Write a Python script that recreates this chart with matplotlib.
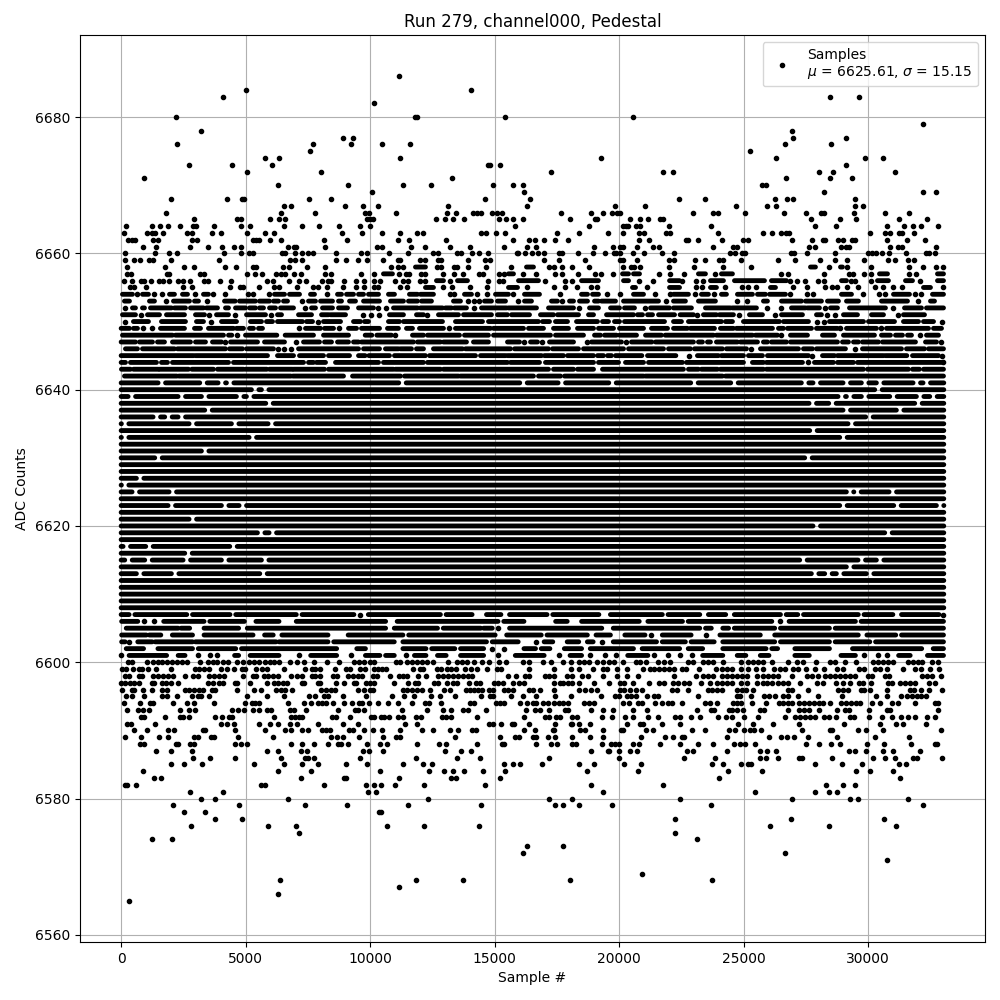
import matplotlib
matplotlib.use("Agg")
import matplotlib.pyplot as plt

TITLE = "Run 279, channel000, Pedestal"
XLABEL = "Sample #"
YLABEL = "ADC Counts"
LEGEND = "Samples\n$\\mu$ = 6625.61, $\\sigma$ = 15.15"

# Sparse rows: ADC level -> samples.
# A number is one sample; a (start, end) pair is a stretch of overlapping samples.
rows = {
 6686: [11178],
 6684: [4995, 14071],
 6683: [4110, 28489, 29654],
 6682: [10136],
 6680: [2223, 11821, 11902, 15437, 20538],
 6679: [32185],
 6678: [3227, 26962],
 6677: [8891, 9293, 27003, 29132],
 6676: [2263, 7686, 9212, 10469, 11620, 26681, 28529],
 6675: [7605, 25275],
 6674: [5758, 6360, 11219, 19253, 26320, 29895, 30618],
 6673: [2745, 4472, 6079, 14754, 14834, 15236, 29132],
 6672: [5035, 8007, 17284, 21743, 22145, 28047, 28609, 31100],
 6671: [937, 13308, 26721, 28489, 29373],
 6670: [6280, 9092, 11339, 12464, 14955, 15758, 16160, 25757, 25918],
 6669: [10056, 16200, 28248, 32225, 32747],
 6668: [2022, 4271, 4874, 4954, 7565, 8409, 14633, 16441, 22413, 23468, 26280, 26762, 27003, 29493],
 6667: [6521, 6842, 9011, 9694, 10297, 13147, 16320, 19815, 21020, 24713, 25958, 26320, 29493, 29815],
 6666: [1821, 6440, 7806, 9775, 9935, 11058, 13107, 13468, 14151, 14312, 14473, 14914, 15115, 15316,
        17686, 18891, 19333, 19695, 19896, 20016, 22986, 23789, 23990, 25074, 26641, 27525, 28127,
        28248, 29453, 30698, 31662],
 6665: [2946, 4673, 4794, 5959, 6360, 6601, 9855, 9976, 10096, 12665, 13026, 13348, 13790, 15196, 15477,
        15758, 16160, 18008, 19012, 19132, 20418, 20819, 21141, 21623, 21743, 27726, 28891, 29533, 31261, 32385],
 6664: [214, 1259, 1580, 1901, 2383, 2906, 3026, 3749, 4794, 5195, 6561, 7244, 7927, 8730, 9574, 9976,
        15838, 18771, 20137, 20257, 20338, 20659, 20819, 21984, 23709, 27886, 28730, 30779, 31462, 31823,
        32144, 32827],
 6663: [134, 1058, 1259, 1379, 1701, 2665, 2866, 3669, 4030, 5075, 5758, 6159, 8851, 9654, 10496, 11219,
        11902, 12143, 14473, 14673, 15075, 15437, 17525, 18409, 19534, 20137, 20779, 20980, 21864, 22025,
        23990, 25797, 26159, 26521, 26721, 26842, 30096, 30698, 30899, 31261, 31381, 31863],
 6662: [295, 455, 576, 1299, 1500, 2826, 3066, 5316, 5436, 5557, 5959, 6401, 8128, 9052, 11138, 11580,
        13067, 15758, 16401, 16602, 17003, 17445, 17967, 20779, 21181, 22704, 22785, 23186, 24150, 24994,
        25195, 26962, 27766, 28208, 28288, 28810, 29011, 29373, 29493, 30779, 31582, 32305],
 6661: [897, 1419, 2785, 3508, 4071, 4513, 4834, 6682, 6923, 7003, 8168, 10257, 10469, 11661, 12223, 13227,
        14031, 15396, 16320, 16682, 18972, 19735, 20016, 20137, 20699, 21342, 21583, 23789, 24592, 24753,
        27645, 27886, 28931, 29132, 29252, 30899, 31220, 31381, 32747],
 6660: [174, 1379, 1942, 2263, 4151, 4834, 5155, 5276, 6441, 6601, 6963, 7284, 7485, 7686, 8610, 9614, 9855,
        10777, 11540, 12544, 12745, 13508, 13669, 14111, 14392, 14754, 15879, 15959, 16240, 16521, 16762,
        17003, 17566, 17726, 18329, 18932, 19414, 19775, 19895, 20016, 20538, 20980, 21703, 22185, 24472,
        24673, 24954, 25074, 26922, 27043, 27565, 28690, 30015, 30176, 30337, 30578, 30859, 31542, 32345,
        32426, 32707],
 6659: [174, 536, 777, 1138, 1299, 2022, 3950, 6762, 6963, 7284, 8610, 9012, 9494, 9855, 10536, 11138, 11219,
        12022, 12223, 12745, 12866, 13950, 14633, 14834, 17003, 17566, 18650, 20016, 20137, 20699, 21984,
        22185, 23066, 23468, 24030, 24191, 24914, 26400, 27083, 28087, 28690, 29172, 29855, 30819, 31100,
        31622, 31863],
 6658: [254, 1781, 2544, 2946, 4191, 4633, 5316, 5436, 6481, 6722, 7445, 8168, 10857, 11138, 11339,
        (11821, 12223), 12705, 12866, 13388, 13509, 13950, 14673, 15678, (16280, 16561), 17204, 17365, 17726,
        18088, 18771, 20137, 20458, 20618, 20819, 21984, 23026, 24191, 25315, (27686, 27886), 28449,
        (28891, 28971), 29172, 30136, 31662, 32225, 32747, 33028],
 6657: [254, 415, 1861, 1942, 3187, 3348, 5075, 5396, 5677, 6200, 6440, 6601, 6923, 7204, 8168, 8409, 9614,
        10136, (10536, 10897), 11179, 11460, 11580, 12063, 12223, 12946, 13388, 13750, 14392, 14553, 15196,
        15396, (15557, 15758), 16160, 16682, 17445, 17726, 18329, 19012, 19253, 19735, (20137, 20378),
        (20578, 20819), 21583, 22025, 22624, (23186, 23468), 23869, (24110, 24552), 26521, 26802, 28248,
        29252, 29413, 29855, 30136, (30457, 30779), 31662, 31943, (32787, 33028)],
 6656: [134, 455, 817, 937, 1218, 1540, 1700, 1942, 2303, 2504, 2785, 3348, 3508, 3990, 4432, 5878, 6119, 6722,
        7124, 7405, 8087, 8289, 8409, 8931, 9413, 9735, 10136, 10377, 11018, 11339, 11540, 12022, 12223,
        (12665, 12946), 13227, (13509, 13910), 14754, 15196, 15356, (15959, 16762), 17043, 17807, 18128,
        (18490, 19172), (20177, 20378), 20779, 21342, (22025, 22426), 22544, 23106, 23387, (23669, 24191),
        (24633, 25838), (26119, 26721), 26882, 27163, 27484, 28007, 28248, (28931, 29132), 29333, 29493,
        30136, (30377, 30819), (31502, 31783), 32104, (32787, 33028)],
 6655: [375, 536, 1018, 2504, 2866, 4392, 4754, 4914, 5557, 6159, 6360, 7083, 7686, 7887, 8248, 8891, 9413,
        9735, 10136, 10297, 11219, 11500, (12223, 12544), 12946, 13308, 14031, 14714, (15557, 15919), 16320,
        17365, 17807, 18289, 18851, 19132, (20538, 20659), 21101, (22025, 22426), 23106, 23347, (23669, 23909),
        24271, 24954, 25195, 25516, (26079, 26280), 27003, 27565, 28288, 28569, 28770, 29172, 29613, 30296,
        30618, 31020, 31381, (32225, 32505), 33028],
 6654: [(54, 455), 656, (857, 1098), 1339, 1660, (1942, 2142), (2464, 2665), 2986, (3307, 3508), 3709, 4191,
        5115, 5316, 5919, (6159, 6561), (6762, 7164), (7606, 7766), 8248, (8690, 8851), (9052, 9333),
        (9534, 9735), (9935, 10337), (10737, 10978), (11580, 11902), (12022, 12544), 13227, 13388,
        (13790, 14071), 14312, 14714, (15035, 15557), 15758, (16200, 16802), 17646, (18490, 18731),
        (18932, 19172), 19494, 20016, (20578, 20980), 21422, 22025, (22185, 22785), 23066, (23307, 23588),
        23829, (24110, 24311), (24753, 25355), (25557, 25878), (26039, 26681), 26882, 27565, 27806,
        (28931, 29333), 29815, 30457, 30698, (31020, 31662), 31903, 32144, (32586, 33028)],
 6653: [(134, 335), (1138, 1339), 1821, (2102, 2745), (2946, 3107), 3468, (4151, 4580), (4754, 5396),
        (5557, 5959), (6119, 6320), (6521, 6682), 7244, (7525, 7806), (8007, 8489), (8730, 8851), (9172, 9413),
        (9735, 10377), (10817, 11339), (11540, 11902), (12063, 12464), (13348, 13629), 13950, 14192, 14392,
        (14593, 14874), (15115, 15437), 15959, (16200, 16481), (17284, 17525), 17726, (18008, 18169),
        (18409, 18731), (19012, 19172), (19293, 19855), (20177, 21583), 21864, (22185, 22664), (23186, 23869),
        24753, 25155, (25797, 25958), (26521, 27324), (27484, 28127), (28368, 28810), (29132, 29613),
        (30537, 31582), 32024, (32506, 32667)],
 6652: [174, (455, 576), (857, 937), (1178, 2022), (2142, 2584), (2785, 3307), (3428, 3870), (4191, 4312),
        (4593, 4994), (5155, 5396), (5557, 5718), (5959, 6200), (6401, 6923), 7365, (7646, 7806), (8087, 8489),
        (8730, 9092), (9534, 10136), 10297, 10656, (10938, 11902), (12022, 12906), (13026, 13267),
        (13388, 13870), 14192, (14473, 15477), (15557, 16682), (17164, 18169), 18369, (18811, 19172),
        (19655, 20016), (20217, 20618), 21020, (21261, 22025), (22185, 22905), (23468, 24472), (24552, 25516),
        25958, 26521, (26922, 27484), (27565, 28047), 28288, (28489, 28770), (29252, 30698), 31020,
        (31462, 32144), (32345, 33028)],
 6651: [(54, 576), 817, (1058, 1540), (1821, 2544), (2986, 3348), 3548, (3830, 4312), 4593, (5035, 5798), 6038,
        (6280, 6441), (7124, 7646), (8048, 8329), (8409, 9012), 9695, 10016, 10337, (10777, 11339),
        (11862, 12143), 12303, (12745, 13549), (13750, 14874), (15115, 15517), (15678, 16401), (16842, 17365),
        (17525, 18369), (18771, 18972), (19494, 20578), (20739, 20940), (21141, 21342), (21583, 22226),
        (22450, 22986), 23146, (23387, 23909), (24030, 24592), 24833, (25235, 25757), 26280, (26521, 27364),
        (27927, 28127), 28368, 28690, (29011, 29573), (30136, 30618), 31220, (31421, 32265)],
 6650: [174, (495, 1098), (1620, 2584), (3026, 3307), 3629, (4030, 4633), (5195, 5637), (5838, 6079),
        (6280, 7284), (7445, 7686), 7887, (8128, 8811), (9333, 9614), (9775, 9935), (10737, 11179),
        (11339, 12906), (13428, 14513), (14754, 16762), (16923, 17204), (17445, 17927), (18289, 19132),
        (19333, 19574), (19815, 20016), (20217, 21823), (22185, 22504), (22785, 24110), (24271, 24552),
        (24994, 26440), (26601, 27605), 27967, 28248, (28449, 29815), (30015, 31060), (31421, 32024),
        (32225, 32627), 32988],
 6649: [(0, 335), (495, 656), 897, 1259, (1580, 2544), (2946, 3187), (3508, 4513), (4633, 4914), (5155, 5316),
        (5517, 5677), 7124, (7405, 8007), (8168, 8530), 8730, (9132, 9453), (9654, 10377), (10697, 11138),
        (11460, 11701), (11982, 12946), 13187, (13428, 14834), (14955, 16160), (16361, 16963), (17365, 17967),
        (18329, 18972), (19172, 19775), (20016, 20980), (21301, 21944), (22185, 22745), (22865, 23829),
        (24070, 24592), (24713, 26159), (26400, 26601), (26762, 27726), (27927, 28770), 28891, (29132, 30337),
        30537, (30738, 32425), (32627, 32948)],
 6648: [(54, 2062), (2182, 4111), (4312, 4445), 4673, (4994, 6253), (6588, 7726), (8128, 9132), (9802, 10069),
        (10270, 10857), 11018, (11701, 12143), (12303, 13589), (13790, 14754), (14955, 17244), (17445, 18570),
        (19012, 19253), (19414, 19895), (20016, 20699), (21060, 21700), (21850, 23789), (23909, 25355),
        (25476, 26360), 26521, (26882, 27565), (28168, 28650), (29011, 30256), (30537, 30899), (31100, 31381),
        (31582, 31743), 32104, (32345, 32827)],
 6647: [(0, 576), (736, 1259), (1460, 1741), (2062, 2785), (2986, 3388), (3669, 4030), 4191, (4392, 5477),
        (5758, 6561), 7003, (7325, 7967), (8168, 8449), (8690, 9132), (9333, 9534), (9654, 11741),
        (11902, 12826), (12946, 13870), (14151, 14754), (15517, 16000), 16200, (16441, 16722), 16923,
        (17204, 18169), 18691, (18892, 20096), 20257, (20498, 21315), (21463, 22986), (23186, 23347),
        (23548, 23669), (23909, 24753), (24874, 25557), (25797, 25958), (26119, 26721), (26882, 28770),
        (28971, 29212), (29413, 29613), (29774, 30416), (30578, 31903), (32305, 32747), 32908],
 6646: [(174, 656), (857, 2142), (2263, 4191), (4352, 4874), (5035, 6119), 6320, 6521, 6842, (7124, 9534),
        (9735, 10377), (10616, 11138), (11219, 11661), (11862, 12143), (12544, 13709), (13830, 15638),
        (15800, 17164), (17325, 18369), (18570, 20177), (20378, 21783), (21984, 22865), (23026, 24150),
        (24311, 25115), 25315, (25677, 27203), (27404, 27766), (27927, 29091), 29493, (29774, 31341),
        (31542, 32265), (32426, 33028)],
 6645: [(0, 2906), (2986, 5878), (6280, 6923), (7164, 8128), (8329, 9172), (9534, 9800), (9950, 10777),
        (10978, 12223), (12384, 14232), (14433, 15437), (15517, 16884), (17003, 17766), (17927, 18972),
        (19132, 19373), (19534, 19695), (19855, 20913), (21141, 22279), 22825, (23146, 23989), (24110, 24994),
        (25195, 25757), (25958, 27605), 27766, (28168, 28650), (28770, 30618), (30698, 31555), (31783, 32827),
        32988],
 6644: [(0, 174), (375, 1419), (1620, 1861), (2062, 4312), (4513, 7325), (7525, 7726), (7846, 8208),
        (8610, 10337), (10536, 12143), (12303, 15517), (15638, 16802), (17043, 18972), (19172, 19976),
        (20257, 20980), (21181, 22544), (22704, 24994), (25356, 25797), (25918, 27364), 27605, (27846, 28609),
        (28770, 29413), (29573, 32948), 33028],
 6643: [(13, 375), (495, 1500), (1540, 2705), (2839, 3709), (3870, 4914), (4994, 5852), (5959, 6882),
        (6923, 8168), (8329, 10938), (11018, 12826), (12946, 17164), (17365, 18169), (18329, 18972),
        (19333, 22584), (22785, 23186), (23307, 23950), (24070, 25797), (25918, 29815), (29975, 31622),
        (31783, 32064), (32225, 33028)],
 6642: [(134, 2236), (2316, 6815), (6896, 8931), (9293, 11219), (11380, 13549), (13629, 16561), (16762, 17646),
        (17807, 20980), (21060, 24150), (24271, 33028)],
 6607: [(0, 320), (552, 2636), (2867, 4372), (4603, 7034), (7266, 9349), 9581, (9928, 12822), (13053, 14095),
        (14674, 15253), (15600, 17105), (17336, 19188), (19651, 21735), (21966, 23239), (23587, 24281),
        (24628, 26480), (26712, 27175), (27407, 29606), (29837, 30995), (31342, 32847), 33028],
 6606: [(20, 668), 900, 1316, (1710, 3330), (3562, 4951), (5414, 6340), (7034, 10622), (11086, 15137),
        (15368, 16179), (17451, 17915), (18493, 20808), (21156, 22545), (22776, 26133), 26480, (26827, 29490),
        (29721, 33028)],
 6605: [(205, 2289), (2405, 2752), (3330, 4719), (5066, 10622), (10970, 12706), (12938, 14442), (14558, 14905),
        15137, (15600, 19304), (19766, 23239), (23471, 23703), (24165, 24397), (24628, 26249), (26480, 28448),
        (28680, 33028)],
 6604: [(20, 1015), (1131, 1594), (2057, 2867), (3330, 5298), (5761, 6108), (6456, 8308), (9118, 11317),
        (11549, 15021), (15484, 16873), (17105, 18725), (19073, 19651), (20230, 21040), 21272, (21735, 22892),
        23471, (24049, 25671), (26249, 29606), (29953, 31111), (31342, 33028)],
 6603: [(20, 160), 321, (668, 1247), (1363, 2867), (2983, 6224), (6340, 8308), (8539, 10970), (11317, 14674),
        (14905, 15947), 16642, (16989, 17336), (17915, 18378), (18725, 18957), 19304, (19766, 21503),
        (21735, 22661), (22892, 23818), (24165, 26249), (26480, 28448), (28680, 30069), (30300, 33028)],
 6602: [(205, 900), (1478, 2867), (3099, 4603), (4835, 8655), (9465, 9812), (11317, 12243), (12474, 13400),
        (13632, 14558), 14905, 15368, (16179, 16642), (16873, 17220), (17800, 18493), (18842, 20577),
        (20925, 22430), (22776, 23355), (24165, 25901), (26133, 26365), (27059, 28448), (29374, 32152),
        (32616, 33028)],
 6601: [0, (321, 1826), (2290, 2566), 3099, 3562, 3863, (4557, 4719), (5182, 6340), 7150, (7613, 8655), 9234,
        (9812, 10391), (10622, 10970), 11433, (11780, 12243), (12706, 13053), (13632, 14558), 15137,
        (15831, 16989), 17567, (18030, 18493), 18842, 19420, 19883, (20346, 21156), 21387, 21966, 22430, 22938,
        (23355, 24165), (24744, 25091), (25671, 26018), (27059, 27638), (28911, 29490), 29837, 30416, 30763,
        (31226, 31690), (32384, 33028)],
 6600: [295, 455, 1058, 1299, 1500, 1660, 1861, 2062, 2263, 2464, 2665, 3187, 3508, 3709, 3870, 4111, 4312, 4673,
        4914, 5155, 5356, 5557, 5758, 5959, 6159, 6360, 6762, 7057, 7325, 7766, 8248, 8730, 9333, 9534, 9735,
        9976, 10136, 11058, 11219, 11500, 11701, 11902, 12103, 12303, 12544, 13147, 13509, 13709, 13910, 14192,
        14513, 14794, 15196, 15477, 16160, 16361, 16963, 17284, 17766, 18048, 18369, 18570, 18771, 19105, 19373,
        19574, 19775, 20137, 20659, 20819, 21060, 21543, 21783, 22025, 22785, 22986, 23387, 23588, 23789, 24191,
        24914, 25195, 25396, 25597, 25797, 26159, 26802, 27163, 27404, 27927, 28489, 28690, 29091, 29533, 30216,
        30417, 30618, 30819, 31020, 31622, 31823, 32023, 32184, 32586, 32827],
 6599: [54, 214, 495, 736, 857, 1098, 1419, 2022, 2986, 3147, 3348, 3548, 4030, 4271, 4513, 4874, 4994, 5436, 5677,
        5878, 6561, 7365, 7646, 7806, 7967, 8570, 9012, 9172, 9574, 9775, 10136, 10297, 10496, 10656, 11741, 12022,
        12143, 12705, 12866, 13107, 13267, 13468, 13830, 14071, 14312, 14714, 15115, 15276, 16401, 17365, 18048,
        18369, 18932, 19373, 19494, 19935, 20298, 20940, 21221, 21382, 21583, 21783, 21984, 22185, 22544, 22704,
        23227, 23909, 24150, 24351, 24552, 24914, 25195, 25516, 25797, 26240, 26480, 26681, 27003, 27204, 27525,
        27886, 28248, 28770, 29011, 29654, 29855, 30296, 30497, 30779, 31421, 31903, 32144, 32506, 32867],
 6598: [174, 335, 736, 857, 1299, 1500, 1701, 1901, 2102, 2584, 2906, 3107, 3548, 3749, 3950, 4151, 4914, 5316, 5436,
        5718, 5918, 6119, 6320, 6842, 7083, 7284, 7646, 7806, 7967, 8489, 8650, 9092, 9293, 9494, 9654, 10096, 10257,
        10817, 11179, 11339, 11500, 11942, 12263, 12745, 12946, 13147, 13348, 13549, 13750, 13950, 14111, 15557,
        15878, 16240, 16401, 17043, 17204, 17405, 17927, 18128, 18490, 18731, 19333, 19935, 20298, 20739, 22185,
        23106, 23387, 23588, 23789, 24150, 24351, 24552, 24753, 24954, 25155, 25557, 25797, 25998, 26199, 26400,
        26962, 27565, 27766, 28007, 28288, 28489, 28690, 28891, 29091, 29292, 29493, 30015, 30176, 30698, 30859,
        32184, 32385, 32586, 32948],
 6597: [13, 174, 375, 536, 736, 1259, 1339, 1660, 1821, 2022, 2303, 3508, 3709, 3950, 4111, 4553, 4673, 5195, 5878,
        6159, 6320, 6481, 6642, 7244, 7325, 7887, 7967, 8610, 8931, 9333, 9413, 9815, 9976, 10136, 10978, 11540, 11821,
        11942, 12585, 12745, 13107, 13348, 13509, 13990, 14272, 14432, 14995, 15155, 15356, 15758, 15999, 16200,
        17405, 17606, 17766, 17967, 18128, 18409, 18972, 19614, 20016, 20177, 20538, 21181, 21583, 21783, 22145,
        22346, 22624, 22825, 23307, 23669, 23950, 24150, 24351, 24552, 24914, 25155, 25557, 25797, 25958, 26159,
        26400, 26601, 26802, 27284, 27967, 28208, 28730, 29011, 29292, 29654, 29815, 30136, 30819, 30980, 31301,
        31502, 31703, 31903, 32426, 32707],
 6596: [54, 455, 536, 897, 1259, 1660, 1861, 2584, 2745, 2946, 3147, 3307, 3669, 3789, 4673, 5356, 5637, 6200, 6440,
        6601, 6882, 8007, 8208, 8409, 8570, 9494, 9735, 9976, 10096, 11339, 11500, 11674, 11902, 12103, 12424, 12986,
        13227, 13870, 14031, 14192, 14352, 14513, 14794, 14955, 15396, 15557, 15758, 16401, 16561, 16842, 17365,
        18409, 18650, 18851, 19132, 20016, 20177, 20418, 20659, 20900, 22105, 22319, 22785, 23588, 23749, 23950,
        24150, 24753, 24954, 25115, 25396, 26802, 26962, 27605, 28810, 29011, 29212, 29734, 29855, 30096, 30779,
        31703, 31863, 32144, 32426, 32988],
 6595: [214, 455, 937, 1660, 1861, 2263, 2866, 3107, 3227, 3548, 5075, 5878, 6521, 7565, 7806, 8128, 8289, 8891, 9815,
        10897, 11379, 11781, 12464, 12826, 13428, 14473, 14834, 14955, 15638, 16120, 16642, 17445, 18048, 19253,
        19855, 19976, 20298, 20458, 20659, 21101, 21382, 21543, 23186, 24753, 24874, 25315, 25838, 26000, 26280,
        26601, 26802, 27204, 28007, 28971, 30337, 30779, 31341, 31582, 31783, 31983, 32144, 32345],
 6594: [134, 777, 1178, 1299, 2102, 2665, 2946, 3749, 4994, 5236, 5396, 5517, 6682, 7325, 7606, 7887, 8048, 8208, 8489,
        8931, 9253, 9534, 9654, 9935, 10297, 10737, 11138, 11701, 12223, 12384, 12866, 14031, 14192, 15075, 15236,
        15396, 16039, 16320, 16561, 16682, 16963, 17164, 17365, 17566, 17766, 17967, 18570, 18771, 18972, 20137,
        20378, 20739, 20900, 21422, 21703, 21944, 22105, 22544, 23468, 23669, 23950, 24592, 24753, 24914, 25356,
        25918, 26440, 26601, 26802, 26962, 27244, 27444, 27645, 27846, 28047, 28208, 28489, 28931, 29132, 29333,
        29533, 29694, 30176, 30497, 30980, 31220, 31903, 32707, 32827],
 6593: [254, 696, 897, 1138, 2383, 2745, 2986, 4472, 4713, 4954, 5276, 5557, 5878, 5999, 6802, 6923, 7405, 8690, 9373,
        9494, 9735, 11299, 12303, 12946, 13267, 13750, 13950, 14673, 16280, 16602, 16842, 17204, 17807, 17967, 18851,
        19333, 19735, 20538, 21101, 23146, 23709, 23829, 24432, 24552, 24753, 24994, 25677, 25838, 26802, 27244,
        27444, 27645, 28047, 28770, 29091, 29252, 30056, 30779, 30899, 32827],
 6592: [817, 900, 1781, 2383, 2504, 2745, 3789, 4071, 4352, 4472, 6159, 6842, 6963, 7124, 7284, 8449, 8610, 9172, 10016,
        10136, 10456, 10576, 10777, 11138, 11339, 11862, 12063, 12906, 13067, 13267, 14312, 16200, 17043, 17204, 17485,
        17646, 18128, 18289, 19293, 19695, 20217, 20538, 21141, 21543, 22226, 22426, 22905, 23267, 23990, 24311, 24552,
        25034, 25597, 26681, 27083, 27284, 27484, 27686, 27886, 28248, 28449, 28730, 29292, 29453, 30056, 30578,
        30940, 31341, 31622, 31903, 32385, 32707],
 6591: [254, 415, 1379, 4030, 4271, 4513, 5517, 5959, 6280, 6762, 7083, 7887, 8891, 9494, 11420, 11902, 14794, 14955,
        15276, 15718, 15798, 16361, 17445, 18048, 18128, 18409, 18811, 20297, 20819, 20940, 21703, 22463, 24793, 25396,
        26199, 27244, 29051, 30458, 31140, 31421, 32345],
 6590: [536, 1058, 1901, 2142, 3307, 3388, 4593, 5798, 6601, 6842, 7284, 7485, 8048, 8208, 8369, 9132, 9293, 9735, 10096,
        10496, 11219, 12103, 12544, 13227, 13549, 14111, 14272, 16200, 16602, 17325, 17405, 18449, 18650, 19333, 20056,
        20137, 21060, 21342, 22945, 23468, 24432, 24673, 25034, 25275, 25436, 25717, 27364, 28489, 28569, 29614, 29908,
        30618, 32908],
 6589: [174, 817, 1540, 1901, 2946, 3107, 3629, 3749, 4713, 6119, 8409, 8650, 8891, 9534, 10536, 11058, 11219, 13428,
        15236, 15838, 15999, 16561, 16682, 17164, 17445, 18088, 18811, 19373, 20860, 21823, 22145, 22544, 22624, 24351,
        26039, 26521, 26762, 27043, 27605, 28770, 30296, 31662],
 6588: [777, 937, 2223, 2303, 2785, 2946, 4593, 4794, 5035, 6842, 7284, 7726, 8289, 8690, 8811, 9092, 9855, 10415, 10697,
        11902, 12785, 13067, 14312, 15316, 15396, 16642, 17284, 17525, 18088, 18249, 19293, 19655, 19815, 19976, 20538,
        20779, 21623, 22463, 23186, 23789, 24633, 24874, 25074, 25476, 27525, 28047, 28529, 28891, 29975, 30658, 31743,
        32707, 32787],
 6587: [1419, 2022, 2866, 5878, 6280, 7204, 7445, 9694, 9935, 10536, 13026, 13669, 14071, 18851, 19534, 19614, 19976,
        20418, 20699, 22745, 22986, 24351, 25677, 25958, 26320, 29252, 29493, 29935, 30618, 31020, 32104],
 6586: [2906, 3589, 4553, 6401, 7365, 7525, 7726, 9574, 11862, 13509, 14432, 17204, 19976, 22624, 23869, 25677, 25918,
        26400, 27244, 27364, 28569, 30216, 30698, 31100, 31823, 31983, 32988],
 6585: [2022, 2544, 3267, 5356, 6521, 7244, 7887, 9012, 9855, 11339, 12143, 12504, 15396, 15758, 16039, 16923, 18369,
        18972, 20177, 20860, 23749, 24191, 24914, 25195, 25315, 27886, 28971, 29774, 31261, 31542],
 6584: [897, 6280, 7606, 10377, 12384, 12986, 13348, 13790, 14553, 15437, 18691, 20739, 24392, 25757, 29533, 30096, 31020],
 6583: [1339, 1620, 7204, 8931, 9012, 11179, 13267, 13468, 15236, 24030, 31301],
 6582: [174, 254, 616, 5637, 5758, 8128, 9815, 10136, 10456, 11018, 12183, 14633, 18891, 21743, 28328, 29011, 29493],
 6581: [2785, 4111, 9895, 10217, 19333, 25476, 27886, 28449, 28770],
 6580: [3227, 3789, 6682, 12344, 17204, 18128, 22426, 26962, 29292, 29614, 31622],
 6579: [2102, 4753, 7365, 9052, 11540, 14473, 17445, 17766, 18369, 19695, 23709, 32185],
 6578: [2544, 3388, 10364, 10442],
 6577: [3789, 4874, 22226, 26922, 30658],
 6576: [2825, 5918, 7003, 10697, 12183, 14392, 26079, 28449, 31140],
 6575: [7124, 22226],
 6574: [1259, 2062, 23146],
 6573: [16320, 17766],
 6572: [16160, 26681],
 6571: [30779],
 6569: [20900],
 6568: [6400, 11862, 13750, 18008, 23749],
 6567: [11179],
 6566: [6280],
 6565: [335],
}

# Solid rows: ADC level -> samples of the white gaps.
solid_start = 0
solid_end = 33040
gap_half_width = 150
solid_gaps = {
 6641: [1634, 3307, 4044, 4379, 11299, 16160, 17700, 19735, 23026, 24633, 27470, 27938, 29144, 29880, 30483, 31956, 32357],
 6640: [5383, 5785, 30416],
 6639: [430, 2437, 3375, 4780, 5182, 28943, 29278, 29880, 31018, 32090, 32625],
 6638: [5959, 27778, 28568, 32022],
 6637: [3508, 29144, 31286],
 6636: [1433, 1900, 2437, 30054],
 6635: [160, 2879, 4580, 6052, 29344],
 6634: [27805],
 6633: [160, 5289, 29010],
 6632: [],
 6631: [3375],
 6630: [1500, 27604],
 6629: [],
 6628: [],
 6627: [763],
 6626: [160],
 6625: [589, 2075, 29278, 29572, 30992],
 6624: [],
 6623: [2035, 4178, 4887, 29010, 31179, 32893],
 6622: [],
 6621: [2879],
 6620: [27938],
 6619: [5624, 6092, 30817],
 6618: [],
 6617: [228, 1138, 4512],
 6616: [2705],
 6615: [295, 1098, 2638, 4178, 5785, 27403, 29746, 30483],
 6614: [29278],
 6613: [763, 2169, 5718, 27872, 28407, 28876, 30081],
 6612: [],
 6611: [],
 6610: [],
 6609: [],
 6608: [],
}

fig, ax = plt.subplots(figsize=(10, 10), dpi=100)

xs, ys = [], []
seg_y, seg_a, seg_b = [], [], []
for level, items in rows.items():
    for item in items:
        if isinstance(item, tuple):
            seg_y.append(level); seg_a.append(item[0]); seg_b.append(item[1])
        else:
            xs.append(item); ys.append(level)
for level, gaps in solid_gaps.items():
    start = solid_start
    for g in gaps:
        seg_y.append(level); seg_a.append(start); seg_b.append(g - gap_half_width)
        start = g + gap_half_width
    seg_y.append(level); seg_a.append(start); seg_b.append(solid_end)

ax.plot(xs, ys, ".", color="black", label=LEGEND)
bands = ax.hlines(seg_y, seg_a, seg_b, colors="black", linewidth=3.5, capstyle="round", zorder=2)
bands.set_snap(False)

ax.set_title(TITLE)
ax.set_xlabel(XLABEL)
ax.set_ylabel(YLABEL)
ax.grid(True)
ax.legend(loc="upper right")
fig.subplots_adjust(left=0.08, right=0.985, top=0.965, bottom=0.058)
fig.savefig("out.png", dpi=100)
